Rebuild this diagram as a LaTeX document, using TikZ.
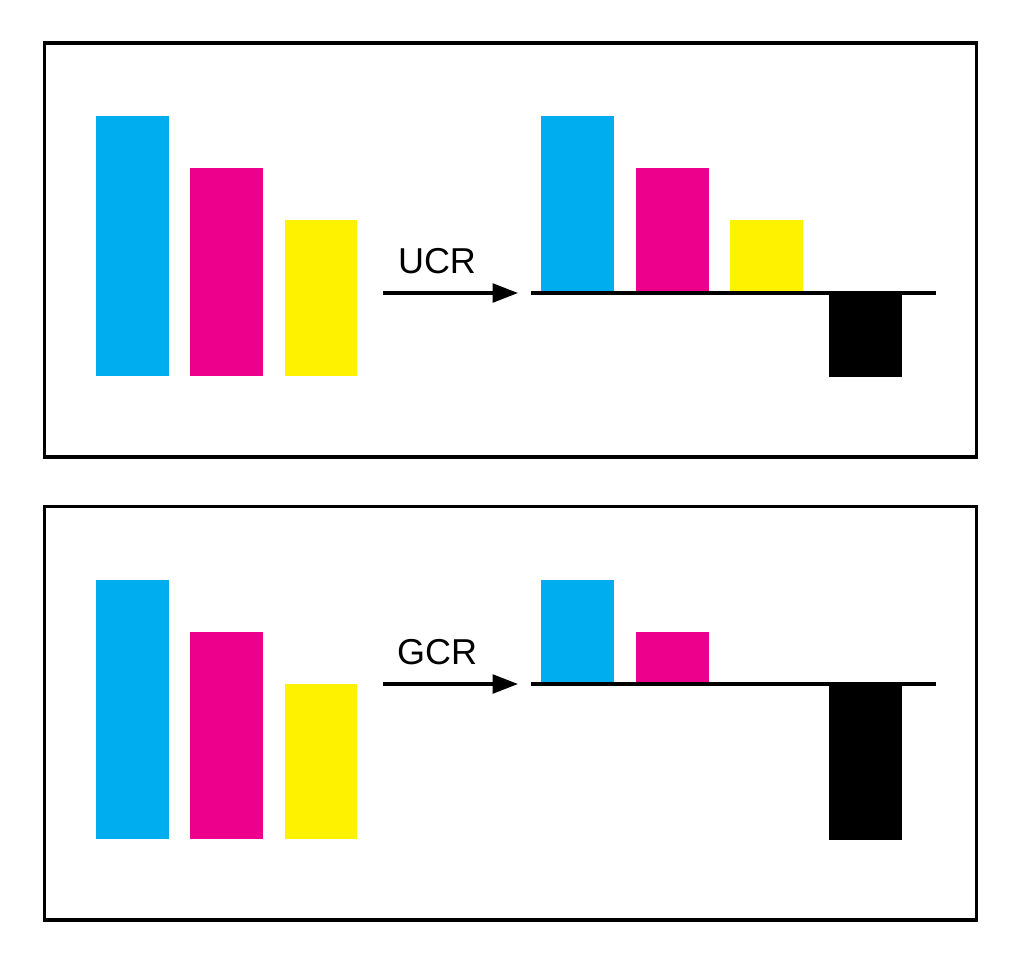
\documentclass[tikz,border=0pt]{standalone}
\usepackage{fontspec}
\setmainfont{Liberation Sans}
\usetikzlibrary{arrows.meta}
\definecolor{cyanc}{HTML}{00AEEF}
\definecolor{magc}{HTML}{EC008C}
\definecolor{yelc}{HTML}{FFF200}
\begin{document}
\begin{tikzpicture}[x=0.75pt,y=-0.75pt,
  frame/.style={draw=black,line width=2.5pt},
  baseln/.style={draw=black,line width=2.5pt},
  conv/.style={draw=black,line width=2.5pt,-{Triangle[length=19pt,width=14pt]}},
  lbl/.style={font=\fontsize{27}{31}\selectfont,inner sep=0pt}]
\useasboundingbox (0,0) rectangle (1024,972);
\fill[white] (0,0) rectangle (1024,972);
% ---------- top panel ----------
\draw[frame] (44.5,43) rectangle (976.5,457);
\fill[cyanc] (96,116) rectangle (169,376);
\fill[magc] (190,168) rectangle (263,376);
\fill[yelc] (285,220) rectangle (357,376);
\fill[cyanc] (541,116) rectangle (614,293);
\fill[magc] (636,168) rectangle (709,293);
\fill[yelc] (730,220) rectangle (803,293);
\fill[black] (829,293) rectangle (902,377);
\draw[baseln] (531,293) -- (936,293);
\node[lbl] (ucr) at (437,261) {UCR};
\coordinate (ua) at (383,293);
\coordinate (ub) at (518,293);
\draw[conv] (ua) -- (ub);
% ---------- bottom panel ----------
\draw[frame] (44.5,506.5) rectangle (976.5,920);
\fill[cyanc] (96,580) rectangle (169,839);
\fill[magc] (190,632) rectangle (263,839);
\fill[yelc] (285,684) rectangle (357,839);
\fill[cyanc] (541,580) rectangle (614,684);
\fill[magc] (636,632) rectangle (709,684);
\fill[black] (829,684) rectangle (902,840);
\draw[baseln] (531,684) -- (936,684);
\node[lbl] (gcr) at (437,652) {GCR};
\coordinate (ga) at (383,684);
\coordinate (gb) at (518,684);
\draw[conv] (ga) -- (gb);
\end{tikzpicture}
\end{document}
